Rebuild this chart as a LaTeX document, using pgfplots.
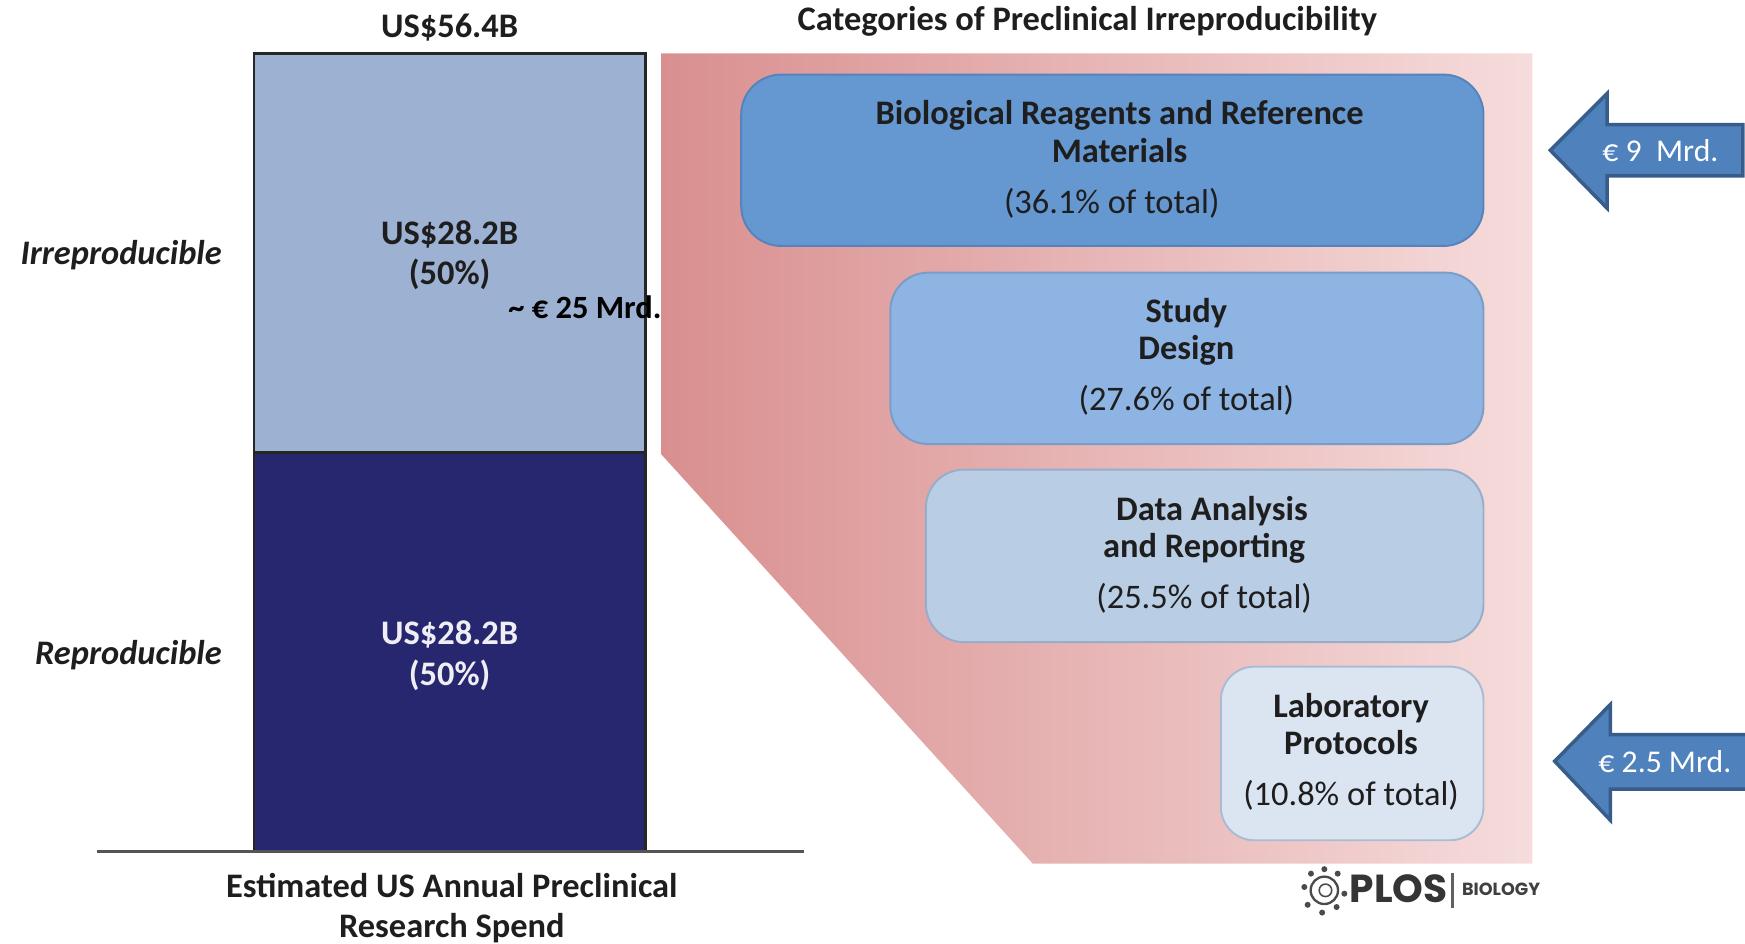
\documentclass[border=0pt]{standalone}
\usepackage{pgfplots}
\pgfplotsset{compat=1.18}
\usepackage{fontspec}
\setmainfont{Carlito}
\newfontfamily\plosfont{Poppins}
\definecolor{navybar}{HTML}{27276F}
\definecolor{lightbar}{HTML}{9DB1D3}
\definecolor{pinkL}{HTML}{D98F8F}
\definecolor{pinkR}{HTML}{F6DCDC}
\definecolor{boxA}{HTML}{6597D1}
\definecolor{boxAb}{HTML}{5683BC}
\definecolor{boxB}{HTML}{8DB4E2}
\definecolor{boxBb}{HTML}{7A9DC8}
\definecolor{boxC}{HTML}{B9CDE5}
\definecolor{boxCb}{HTML}{97AECB}
\definecolor{boxD}{HTML}{DBE5F1}
\definecolor{boxDb}{HTML}{A9BCD3}
\definecolor{arrowF}{HTML}{4F81BD}
\definecolor{arrowB}{HTML}{385D8A}
\definecolor{txt}{HTML}{1E1E1E}
\definecolor{basegray}{HTML}{555555}
\begin{document}
\begin{tikzpicture}[
  lab/.style={font=\fontsize{8.8}{9.7}\selectfont\bfseries, text=txt, inner sep=0pt, anchor=base},
  reg/.style={font=\fontsize{8.8}{9.7}\selectfont, text=txt, inner sep=0pt, anchor=base}]
% ---------- stacked bar: estimated US annual preclinical research spend ----------
\begin{axis}[at={(2.28cm,0.83cm)}, anchor=south west, scale only axis,
  width=3.52cm, height=7.17cm, xmin=0.5, xmax=1.5, ymin=0, ymax=56.4,
  ybar stacked, bar width=3.52cm, hide axis, clip=false]
\addplot[fill=navybar, draw=black!85, line width=0.6pt] coordinates {(1,28.2)};
\addplot[fill=lightbar, draw=black!85, line width=0.6pt] coordinates {(1,28.2)};
\end{axis}
% ---------- everything else in a pixel-based axis ----------
\begin{axis}[at={(0,0)}, anchor=south west, scale only axis,
  width=15.68cm, height=8.48cm, xmin=0, xmax=1568, ymin=0, ymax=848,
  y dir=reverse, hide axis, clip=false]
% pink funnel
\addplot[draw=none, left color=pinkL, right color=pinkR]
  coordinates {(594,48) (1377,48) (1377,776) (928,776) (594,408)} -- cycle;
% category boxes
\addplot[fill=boxA, draw=boxAb, line width=0.5pt, rounded corners=0.36cm]
  coordinates {(1000,67) (1333,67) (1333,221) (666,221) (666,67)} -- cycle;
\addplot[fill=boxB, draw=boxBb, line width=0.5pt, rounded corners=0.34cm]
  coordinates {(1066,245) (1333,245) (1333,399) (800,399) (800,245)} -- cycle;
\addplot[fill=boxC, draw=boxCb, line width=0.5pt, rounded corners=0.34cm]
  coordinates {(1082,422) (1333,422) (1333,577) (832,577) (832,422)} -- cycle;
\addplot[fill=boxD, draw=boxDb, line width=0.5pt, rounded corners=0.3cm]
  coordinates {(1215,599) (1333,599) (1333,755) (1097,755) (1097,599)} -- cycle;
% arrows
\addplot[fill=arrowF, draw=arrowB, line width=0.9pt, line join=miter]
  coordinates {(1393,135) (1444,84) (1444,112) (1566,112) (1566,158) (1444,158) (1444,187)} -- cycle;
\addplot[fill=arrowF, draw=arrowB, line width=0.9pt, line join=miter]
  coordinates {(1397,684) (1447,633) (1447,660) (1580,660) (1580,709) (1447,709) (1447,737)} -- cycle;
% baseline
\addplot[basegray, line width=0.9pt] coordinates {(87,765) (722,765)};
% PLOS logo
\addplot[only marks, mark=o, mark size=3.5pt, mark options={draw=txt!80, line width=0.6pt}] coordinates {(1190,800)};
\addplot[only marks, mark=o, mark size=1.6pt, mark options={draw=txt!80, line width=0.4pt}] coordinates {(1191,800)};
\addplot[only marks, mark=*, mark size=0.55pt, color=txt!80]
  coordinates {(1178,785) (1190,781) (1202,785) (1172,797) (1208,803) (1175,813) (1188,820) (1201,815)};
\addplot[txt!70, line width=0.6pt] coordinates {(1305,784) (1305,816)};
% ---------- texts ----------
\node[lab] at (axis cs:404,34) {US\$56.4B};
\node[lab, anchor=base east, font=\fontsize{8.8}{9.7}\selectfont\bfseries\itshape] at (axis cs:200,238) {Irreproducible};
\node[lab, anchor=base east, font=\fontsize{8.8}{9.7}\selectfont\bfseries\itshape] at (axis cs:200,597) {Reproducible};
\node[lab] at (axis cs:404,220) {US\$28.2B};
\node[lab] at (axis cs:404,256) {(50\%)};
\node[lab, text=white!92!navybar] at (axis cs:404,579) {US\$28.2B};
\node[lab, text=white!92!navybar] at (axis cs:404,616) {(50\%)};
\node[lab, anchor=base west, text=black, font=\fontsize{8.3}{9}\selectfont\bfseries] at (axis cs:456,286) {\textasciitilde\ € 25 Mrd.};
\node[lab] at (axis cs:406,806) {Estimated US Annual Preclinical};
\node[lab] at (axis cs:406,842) {Research Spend};
\node[lab] at (axis cs:977,27) {Categories of Preclinical Irreproducibility};
% box texts
\node[lab] at (axis cs:1006,112) {Biological Reagents and Reference};
\node[lab] at (axis cs:1006,146) {Materials};
\node[reg] at (axis cs:999,192) {(36.1\% of total)};
\node[lab] at (axis cs:1066,290) {Study};
\node[lab] at (axis cs:1066,323) {Design};
\node[reg] at (axis cs:1066,369) {(27.6\% of total)};
\node[lab] at (axis cs:1089,468) {Data Analysis};
\node[lab] at (axis cs:1082,501) {and Reporting};
\node[reg] at (axis cs:1082,547) {(25.5\% of total)};
\node[lab] at (axis cs:1214,645) {Laboratory};
\node[lab] at (axis cs:1214,678) {Protocols};
\node[reg] at (axis cs:1214,724) {(10.8\% of total)};
% arrow texts
\node[reg, text=white, font=\fontsize{8.1}{9}\selectfont] at (axis cs:1492,145) {€ 9\ \ Mrd.};
\node[reg, text=white, font=\fontsize{8.1}{9}\selectfont] at (axis cs:1496,694) {€ 2.5 Mrd.};
% PLOS wordmark
\node[anchor=base west, inner sep=0pt, text=txt!90, font=\plosfont\bfseries\fontsize{10}{11}\selectfont] at (axis cs:1212,811) {PLOS};
\node[anchor=base west, inner sep=0pt, text=txt!85, font=\plosfont\bfseries\fontsize{4.5}{5}\selectfont] at (axis cs:1313,805) {BIOLOGY};
\end{axis}
\pgfresetboundingbox
\path (0,0) rectangle (15.68cm,8.48cm);
\end{tikzpicture}
\end{document}
